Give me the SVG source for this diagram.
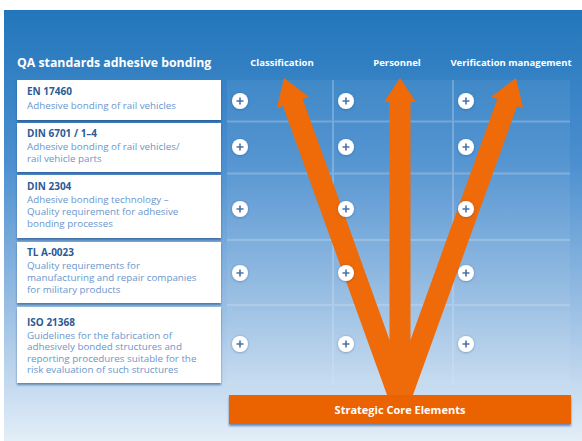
<svg xmlns="http://www.w3.org/2000/svg" width="582" height="441" viewBox="0 0 582 441">
<defs>
<linearGradient id="bg" x1="0" y1="0" x2="0" y2="1">
<stop offset="0" stop-color="#2276bb"/>
<stop offset="0.35" stop-color="#4b8fcf"/>
<stop offset="0.7" stop-color="#9cc0e4"/>
<stop offset="1" stop-color="#e3eef8"/>
</linearGradient>
<filter id="sh" x="-10%" y="-10%" width="120%" height="130%">
<feDropShadow dx="0" dy="2" stdDeviation="1.2" flood-color="#1f4a80" flood-opacity="0.6"/>
</filter>
<filter id="csh" x="-30%" y="-30%" width="160%" height="160%">
<feDropShadow dx="0" dy="0.5" stdDeviation="1" flood-color="#1f4a80" flood-opacity="0.5"/>
</filter>
<g id="plus">
<circle r="8" fill="#ffffff" filter="url(#csh)"/>
<path d="M-3.5 0H3.5M0 -3.5V3.5" stroke="#4a72a8" stroke-width="1.6"/>
</g>
</defs>
<style>
.hdr{font-family:"Open Sans","Liberation Sans",sans-serif;font-weight:bold;fill:#ffffff}
.t{font-family:"Open Sans","Liberation Sans",sans-serif;font-weight:bold;font-size:10px;fill:#2b5a96}
.d{font-family:"Open Sans","Liberation Sans",sans-serif;font-size:9.8px;fill:#6a96cc}
.box{fill:#ffffff;filter:url(#sh)}
.grid{fill:none;stroke:#d6e6f6;stroke-opacity:0.3;stroke-width:2}
.arrow{fill:#ef6a08}
</style>
<rect x="0" y="0" width="582" height="441" fill="#ffffff"/>
<rect x="4" y="10" width="578" height="431" fill="url(#bg)"/>

<text class="hdr" x="17" y="67" font-size="12.3">QA standards adhesive bonding</text>
<text class="hdr" x="282" y="66" font-size="9.5" text-anchor="middle">Classification</text>
<text class="hdr" x="397" y="66" font-size="9.5" text-anchor="middle">Personnel</text>
<text class="hdr" x="511" y="66" font-size="9.5" text-anchor="middle">Verification management</text>

<g id="grid">
<rect x="227" y="80" width="343" height="305" fill="#ffffff" fill-opacity="0.06"/>
<path class="grid" d="M333 80V385M453 80V385M227 121.5H570M227 173.5H570M227 240H570M227 305H570"/>
</g>

<g id="box1">
<rect class="box" x="17" y="80" width="204" height="40"/>
<text class="t" x="27" y="95">EN 17460</text>
<text class="d" x="27" y="109">Adhesive bonding of rail vehicles</text>
</g>
<g id="box2">
<rect class="box" x="17" y="123" width="204" height="49"/>
<text class="t" x="27" y="137">DIN 6701 / 1–4</text>
<text class="d" x="27" y="150">Adhesive bonding of rail vehicles/</text>
<text class="d" x="27" y="162">rail vehicle parts</text>
</g>
<g id="box3">
<rect class="box" x="17" y="175" width="204" height="63"/>
<text class="t" x="27" y="190">DIN 2304</text>
<text class="d" x="27" y="203">Adhesive bonding technology –</text>
<text class="d" x="27" y="215">Quality requirement for adhesive</text>
<text class="d" x="27" y="227">bonding processes</text>
</g>
<g id="box4">
<rect class="box" x="17" y="242" width="204" height="61"/>
<text class="t" x="27" y="256">TL A-0023</text>
<text class="d" x="27" y="269">Quality requirements for</text>
<text class="d" x="27" y="281">manufacturing and repair companies</text>
<text class="d" x="27" y="293">for military products</text>
</g>
<g id="box5">
<rect class="box" x="17" y="307" width="204" height="76"/>
<text class="t" x="27" y="326">ISO 21368</text>
<text class="d" x="27" y="338.5">Guidelines for the fabrication of</text>
<text class="d" x="27" y="350">adhesively bonded structures and</text>
<text class="d" x="27" y="361.5">reporting procedures suitable for the</text>
<text class="d" x="27" y="373">risk evaluation of such structures</text>
</g>

<g id="connectors">
<polygon class="arrow" points="284,78 308.8,96.7 302.7,98.9 409.9,396.4 390.1,403.6 282.9,106.1 276.8,108.2"/>
<polygon class="arrow" points="400,78 416,102 410.5,102 410.5,400 389.5,400 389.5,102 384,102"/>
<polygon class="arrow" points="516,78 523.2,108.2 517.1,106.1 409.9,403.6 390.1,396.4 497.3,98.9 491.2,96.7"/>
</g>

<g id="pluses">
<use href="#plus" x="240" y="101"/><use href="#plus" x="346" y="101"/><use href="#plus" x="466" y="101"/>
<use href="#plus" x="240" y="147"/><use href="#plus" x="346" y="147"/><use href="#plus" x="466" y="147"/>
<use href="#plus" x="240" y="209"/><use href="#plus" x="346" y="209"/><use href="#plus" x="466" y="209"/>
<use href="#plus" x="240" y="273"/><use href="#plus" x="346" y="273"/><use href="#plus" x="466" y="273"/>
<use href="#plus" x="240" y="344"/><use href="#plus" x="346" y="344"/><use href="#plus" x="466" y="344"/>
</g>

<g id="core">
<rect x="229" y="395" width="342" height="29" fill="#ea6306" filter="url(#sh)"/>
<text class="hdr" x="400" y="413.5" font-size="11" text-anchor="middle">Strategic Core Elements</text>
</g>
</svg>
